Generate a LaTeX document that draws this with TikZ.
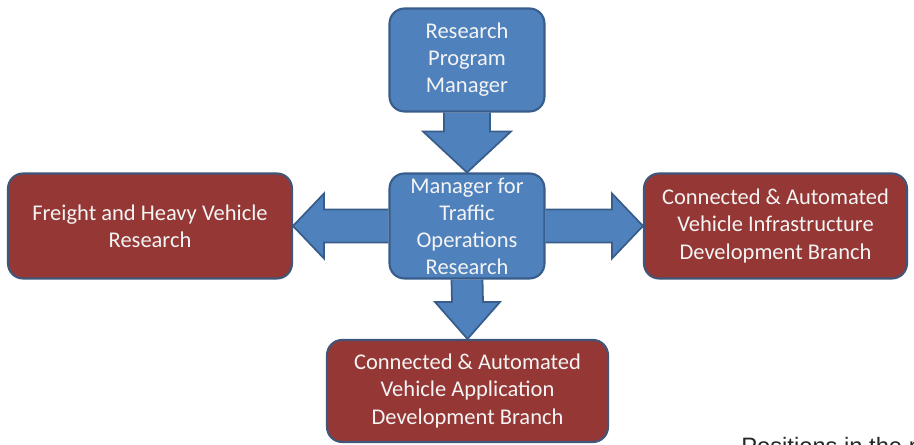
\documentclass[tikz,border=0pt]{standalone}
\usepackage{fontspec}
\setmainfont{Carlito}
\newfontfamily\notefont{Liberation Sans}
\usetikzlibrary{calc,positioning,backgrounds}
\definecolor{boxblue}{HTML}{4F81BD}
\definecolor{boxblueline}{HTML}{385D8A}
\definecolor{boxred}{HTML}{953735}
\definecolor{boxredline}{HTML}{405578}
\definecolor{boxtext}{HTML}{F4F4F4}

\begin{document}
\begin{tikzpicture}[x=0.02cm,y=-0.02cm,line join=round,
  box/.style={rectangle,rounded corners=0.3cm,line width=1.2pt,
    text=boxtext,align=center,inner sep=0pt,
    font=\fontsize{12.8}{15.4}\selectfont},
  mgr/.style={box,fill=boxblue,draw=boxblueline,minimum width=3.1cm},
  branch/.style={box,fill=boxred,draw=boxredline,minimum height=2.1cm},
  fat/.style={fill=boxblue,draw=boxblueline,line width=1pt}]
\path[use as bounding box] (0,0) rectangle (914,445);

% managers
\node[mgr,minimum height=2.06cm] (rpm) at (467,60) {Research\\Program\\Manager};
\node[mgr,minimum height=2.1cm] (tor) at (467,226)
  {Manager for\\Traffic\\Operations\\Research};

% branches
\node[branch,minimum width=5.68cm] (frt) at (150,226)
  {Freight and Heavy Vehicle\\Research};
\node[branch,minimum width=5.26cm] (cavi) at (775.5,226)
  {Connected \& Automated\\Vehicle Infrastructure\\Development Branch};
\node[branch,minimum width=5.62cm,minimum height=2.04cm] (cava) at (467.5,391)
  {Connected \& Automated\\Vehicle Application\\Development Branch};

\begin{pgfonlayer}{background}
\fill[white] (0,0) rectangle (914,445);
% block arrows: shaft from one box, head touching the next
\draw[fat] ($(rpm.south)+(-23,0)$)--($(tor.north)+(-23,-41)$)--($(tor.north)+(-44,-41)$)
  --(tor.north)--($(tor.north)+(44,-41)$)--($(tor.north)+(23,-41)$)--($(rpm.south)+(23,0)$);
\draw[fat] ($(tor.west)+(0,-16.5)$)--($(frt.east)+(31,-16.5)$)--($(frt.east)+(31,-32.5)$)
  --(frt.east)--($(frt.east)+(31,32.5)$)--($(frt.east)+(31,16.5)$)--($(tor.west)+(0,16.5)$);
\draw[fat] ($(tor.east)+(0,-16.5)$)--($(cavi.west)+(-31,-16.5)$)--($(cavi.west)+(-31,-32.5)$)
  --(cavi.west)--($(cavi.west)+(-31,32.5)$)--($(cavi.west)+(-31,16.5)$)--($(tor.east)+(0,16.5)$);
\draw[fat] ($(tor.south)+(-15.5,0)$)--($(cava.north)+(-15.5,-37)$)--($(cava.north)+(-32.5,-37)$)
  --(cava.north)--($(cava.north)+(32.5,-37)$)--($(cava.north)+(15.5,-37)$)--($(tor.south)+(15.5,0)$);
\end{pgfonlayer}

% note cut off by the lower edge
\begin{scope}
  \clip (0,0) rectangle (914,445);
  \node[anchor=base west,inner sep=0pt,text=black!85,
    font=\notefont\fontsize{13.5}{16}\selectfont] (note) at (741,455) {Positions in the red};
\end{scope}
\end{tikzpicture}
\end{document}
